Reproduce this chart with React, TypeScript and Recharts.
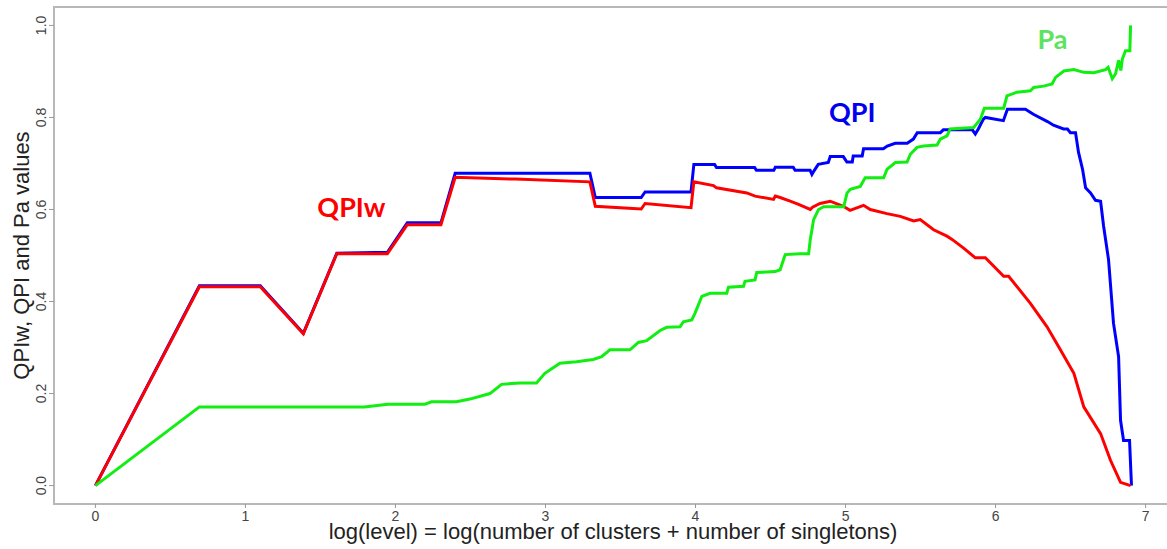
import { LineChart, Line, XAxis, YAxis, ReferenceArea, ReferenceDot, Label } from 'recharts'

// x = log(level), one array per series
const qpiX = [0, 0.693, 1.099, 1.386, 1.609, 1.946, 2.079, 2.303, 2.398, 3.296, 3.332, 3.638, 3.664, 3.970, 3.989, 4.127, 4.140, 4.394, 4.406, 4.522, 4.532, 4.651, 4.664, 4.764, 4.776, 4.790, 4.818, 4.885, 4.898, 4.985, 5.009, 5.045, 5.051, 5.111, 5.120, 5.252, 5.278, 5.331, 5.411, 5.452, 5.478, 5.632, 5.652, 5.845, 5.865, 5.885, 5.918, 5.932, 6.052, 6.079, 6.199, 6.252, 6.346, 6.386, 6.453, 6.479, 6.499, 6.533, 6.553, 6.580, 6.600, 6.633, 6.666, 6.700, 6.720, 6.753, 6.786, 6.820, 6.833, 6.853, 6.893, 6.906]
const qpiY = [0, 0.434, 0.434, 0.331, 0.505, 0.507, 0.571, 0.571, 0.679, 0.679, 0.626, 0.626, 0.638, 0.638, 0.698, 0.698, 0.691, 0.691, 0.685, 0.685, 0.692, 0.692, 0.685, 0.685, 0.676, 0.684, 0.698, 0.702, 0.715, 0.715, 0.703, 0.703, 0.716, 0.716, 0.732, 0.732, 0.738, 0.744, 0.744, 0.753, 0.767, 0.767, 0.773, 0.773, 0.764, 0.775, 0.796, 0.800, 0.793, 0.818, 0.818, 0.807, 0.791, 0.783, 0.775, 0.775, 0.767, 0.767, 0.724, 0.687, 0.647, 0.636, 0.620, 0.618, 0.564, 0.491, 0.353, 0.280, 0.142, 0.098, 0.098, 0]

const qpiwX = [0, 0.693, 1.099, 1.386, 1.609, 1.946, 2.079, 2.303, 2.398, 2.800, 3.296, 3.332, 3.638, 3.664, 3.970, 3.989, 4.120, 4.140, 4.342, 4.397, 4.520, 4.532, 4.564, 4.631, 4.687, 4.765, 4.780, 4.830, 4.898, 4.985, 5.030, 5.120, 5.165, 5.276, 5.365, 5.454, 5.498, 5.587, 5.676, 5.710, 5.787, 5.865, 5.932, 6.054, 6.087, 6.232, 6.343, 6.432, 6.522, 6.588, 6.700, 6.766, 6.833, 6.900]
const qpiwY = [0, 0.432, 0.432, 0.330, 0.504, 0.504, 0.567, 0.567, 0.670, 0.666, 0.660, 0.607, 0.601, 0.613, 0.604, 0.660, 0.652, 0.647, 0.636, 0.629, 0.622, 0.629, 0.626, 0.618, 0.611, 0.600, 0.605, 0.613, 0.618, 0.607, 0.598, 0.609, 0.600, 0.591, 0.585, 0.575, 0.578, 0.556, 0.542, 0.535, 0.516, 0.495, 0.495, 0.455, 0.455, 0.396, 0.345, 0.295, 0.244, 0.171, 0.113, 0.055, 0.007, 0]

const paX = [0, 0.693, 1.792, 1.950, 2.197, 2.240, 2.407, 2.496, 2.630, 2.707, 2.830, 2.940, 2.996, 3.096, 3.207, 3.318, 3.374, 3.430, 3.563, 3.619, 3.674, 3.764, 3.808, 3.897, 3.919, 3.975, 3.997, 4.042, 4.097, 4.208, 4.220, 4.320, 4.330, 4.397, 4.408, 4.531, 4.564, 4.598, 4.698, 4.754, 4.765, 4.776, 4.787, 4.820, 4.854, 4.988, 5.010, 5.032, 5.098, 5.131, 5.254, 5.276, 5.332, 5.410, 5.432, 5.476, 5.520, 5.610, 5.632, 5.676, 5.698, 5.854, 5.899, 5.925, 6.054, 6.076, 6.143, 6.232, 6.254, 6.320, 6.377, 6.400, 6.455, 6.522, 6.588, 6.655, 6.733, 6.750, 6.778, 6.800, 6.820, 6.835, 6.845, 6.866, 6.895, 6.900]
const paY = [0, 0.171, 0.171, 0.177, 0.177, 0.182, 0.182, 0.188, 0.200, 0.220, 0.223, 0.223, 0.244, 0.266, 0.269, 0.274, 0.280, 0.295, 0.295, 0.311, 0.315, 0.337, 0.344, 0.345, 0.356, 0.360, 0.375, 0.411, 0.418, 0.418, 0.431, 0.433, 0.444, 0.447, 0.463, 0.465, 0.469, 0.502, 0.504, 0.504, 0.535, 0.556, 0.578, 0.600, 0.606, 0.606, 0.636, 0.644, 0.650, 0.669, 0.669, 0.687, 0.702, 0.703, 0.720, 0.735, 0.738, 0.740, 0.753, 0.760, 0.775, 0.778, 0.796, 0.820, 0.820, 0.847, 0.855, 0.858, 0.865, 0.868, 0.873, 0.887, 0.901, 0.904, 0.898, 0.897, 0.904, 0.909, 0.884, 0.895, 0.924, 0.902, 0.927, 0.945, 0.945, 1.0]

const xTicks = [0, 1, 2, 3, 4, 5, 6, 7]
const yTicks = [0, 0.2, 0.4, 0.6, 0.8, 1.0]

const toPoints = (xs: number[], ys: number[]) => xs.map((x, i) => ({ x, y: ys[i] }))

const FONT = '"Liberation Sans", Arial, sans-serif'
const TAG_FONT = 'Lato, "Open Sans", sans-serif'

const XTick = ({ x, y, payload }: any) => (
    <text x={x} y={y} dy={11} textAnchor="middle" fontFamily={FONT} fontSize={14} fill="#444">{payload.value}</text>
)

const YTick = ({ x, y, payload }: any) => (
    <text x={x - 1} y={y} transform={`rotate(-90, ${x - 1}, ${y})`} textAnchor="middle" fontFamily={FONT} fontSize={14} fill="#444">
        {Number(payload.value).toFixed(1)}
    </text>
)

const XTitle = ({ viewBox }: any) => (
    <text x={viewBox.x + viewBox.width / 2} y={viewBox.y + 35} textAnchor="middle" fontFamily={FONT} fontSize={22} fill="#222">
        log(level) = log(number of clusters + number of singletons)
    </text>
)

const YTitle = ({ viewBox }: any) => {
    const cy = viewBox.y + viewBox.height / 2
    return (
        <text x={29} y={cy} transform={`rotate(-90, 29, ${cy})`} textAnchor="middle" fontFamily={FONT} fontSize={22} fill="#222">
            QPIw, QPI and Pa values
        </text>
    )
}

const tag = (text: string, color: string) => (p: any) => (
    <text x={p.cx} y={p.cy} dy="0.36em" textAnchor="middle" fontFamily={TAG_FONT} fontWeight={700} fontSize={27} fill={color}>{text}</text>
)

export default function App() {
    return (
        <div style={{ position: 'absolute', left: 0, top: 0, width: 1167, height: 549, overflow: 'hidden', background: '#fff' }}>
            <LineChart width={1180} height={549} margin={{ top: 7, right: 8, bottom: 0, left: 0 }}>
                <XAxis
                    type="number"
                    dataKey="x"
                    domain={[-0.276, 7.176]}
                    ticks={xTicks}
                    allowDataOverflow
                    axisLine={false}
                    tickLine={{ stroke: '#999' }}
                    tickSize={4}
                    height={45}
                    tick={<XTick />}
                >
                    <Label content={<XTitle />} />
                </XAxis>
                <YAxis
                    type="number"
                    dataKey="y"
                    domain={[-0.04, 1.04]}
                    ticks={yTicks}
                    allowDataOverflow
                    axisLine={false}
                    tickLine={{ stroke: '#999' }}
                    tickSize={5}
                    width={54}
                    tick={<YTick />}
                >
                    <Label content={<YTitle />} />
                </YAxis>
                <ReferenceArea x1={-0.276} x2={7.176} y1={-0.04} y2={1.04} fill="none" stroke="#b8b8b8" strokeWidth={2} ifOverflow="visible" />
                <Line data={toPoints(qpiX, qpiY)} dataKey="y" stroke="#0000ff" strokeWidth={3} dot={false} isAnimationActive={false} />
                <Line data={toPoints(qpiwX, qpiwY)} dataKey="y" stroke="#ff0000" strokeWidth={3} dot={false} isAnimationActive={false} />
                <Line data={toPoints(paX, paY)} dataKey="y" stroke="#11ee11" strokeWidth={3} dot={false} isAnimationActive={false} />
                <ReferenceDot x={1.706} y={0.604} r={0} shape={tag('QPIw', '#ff0000')} ifOverflow="visible" />
                <ReferenceDot x={5.045} y={0.811} r={0} shape={tag('QPI', '#0000ee')} ifOverflow="visible" />
                <ReferenceDot x={6.379} y={0.969} r={0} shape={tag('Pa', '#5ee35e')} ifOverflow="visible" />
            </LineChart>
        </div>
    )
}
